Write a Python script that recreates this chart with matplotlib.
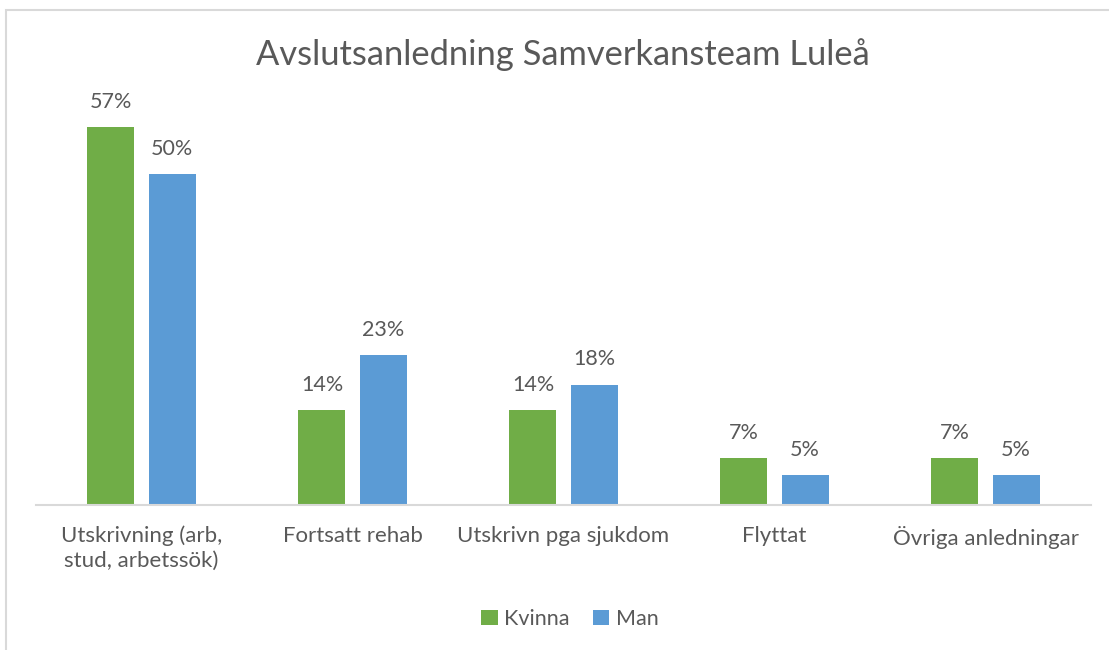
import matplotlib
matplotlib.use("Agg")
import matplotlib.pyplot as plt
import matplotlib.patches as patches
import numpy as np

plt.rcParams['font.family'] = ['Lato', 'DejaVu Sans']

TEXT_COLOR = "#595959"
COLOR_KVINNA = "#70AD47"
COLOR_MAN = "#5B9BD5"

# ---- Data
categories = ["Utskrivning (arb,\nstud, arbetssök)", "Fortsatt rehab",
              "Utskrivn pga sjukdom", "Flyttat", "Övriga anledningar"]
kvinna = [57.1, 14.3, 14.3, 7.1, 7.1]
man = [50.0, 22.7, 18.2, 4.5, 4.5]
series_names = ["Kvinna", "Man"]
title = "Avslutsanledning Samverkansteam Luleå"


def pct_label(v):
    return "%d%%" % int(v + 0.5)


fig = plt.figure(figsize=(11.09, 6.5), dpi=100)
ax = fig.add_axes([0.0325, 0.2231, 0.9513, 0.6107])

x = np.arange(len(categories))
w = 0.223
off = 0.145
b1 = ax.bar(x - off, kvinna, w, color=COLOR_KVINNA, label=series_names[0])
b2 = ax.bar(x + off, man, w, color=COLOR_MAN, label=series_names[1])

for bars, vals in ((b1, kvinna), (b2, man)):
    for rect, v in zip(bars, vals):
        ax.annotate(pct_label(v), (rect.get_x() + rect.get_width() / 2, v),
                    xytext=(0, 11), textcoords="offset points",
                    ha="center", va="bottom", fontsize=15.5, color=TEXT_COLOR)

ax.set_xlim(-0.5, len(categories) - 0.5)
ax.set_ylim(0, 60)
ax.set_yticks([])
ax.set_xticks(x)
ax.set_xticklabels(categories, fontsize=16, color=TEXT_COLOR,
                   linespacing=1.3)
ax.tick_params(axis="x", length=0, pad=15)
for side in ("left", "right", "top"):
    ax.spines[side].set_visible(False)
ax.spines["bottom"].set_color("#D9D9D9")
ax.spines["bottom"].set_linewidth(1.5)

fig.text(563 / 1109, 1 - 55 / 650, title, ha="center", va="center",
         fontsize=24.8, color=TEXT_COLOR)

fig.legend(handles=[b1, b2], loc="center", ncol=2, frameon=False,
           bbox_to_anchor=(570 / 1109, 1 - 619 / 650), fontsize=15.5,
           handlelength=0.75, handleheight=0.75, handletextpad=0.3,
           columnspacing=1.1, labelcolor=TEXT_COLOR)

# chart area border
fig.patches.append(patches.Rectangle((6 / 1109, -0.1), 1.2, 1 - 10 / 650 + 0.1,
                                     transform=fig.transFigure, fill=False,
                                     edgecolor="#D9D9D9", linewidth=1.5))

fig.savefig("out.png", dpi=100)
